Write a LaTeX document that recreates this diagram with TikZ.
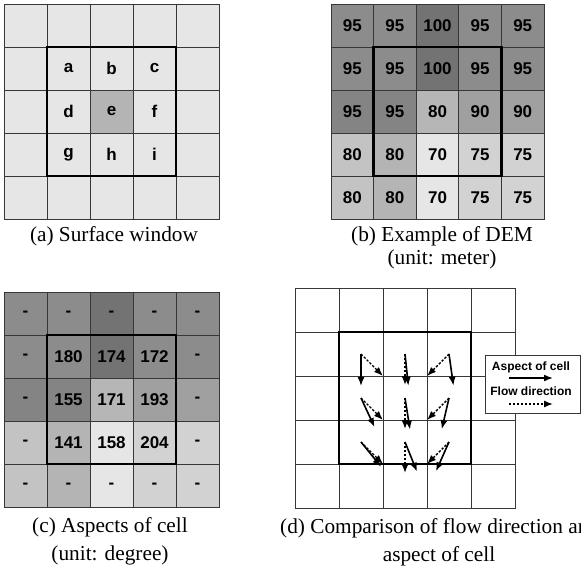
\documentclass[tikz,border=0pt]{standalone}
\usepackage{fontspec}
\setmainfont{Liberation Serif}
\newfontfamily\cellfont{Liberation Sans}
\usetikzlibrary{arrows.meta,calc}

\definecolor{gridline}{RGB}{55,55,55}

\begin{document}
\begin{tikzpicture}[x=1pt,y=-1pt,
  cellbox/.style={draw=gridline, line width=0.9pt, anchor=north west,
    minimum width=43pt, minimum height=43pt, inner sep=0pt, outer sep=0pt,
    font=\cellfont\bfseries\fontsize{17}{17}\selectfont},
  flowcell/.style={cellbox, fill=white, minimum width=44pt, minimum height=44pt},
  windowbox/.style={draw=black, line width=2.6pt},
  caption/.style={inner sep=0pt, font=\fontsize{21.3}{24}\selectfont},
  aspectarrow/.style={line width=1.6pt, -{Latex[length=9pt,width=7pt]}},
  flowarrow/.style={line width=1.4pt, dash pattern=on 2.4pt off 1.6pt,
    -{Latex[length=9pt,width=7pt]}},
  legendbox/.style={draw=gridline, line width=0.9pt, fill=white},
  legendtext/.style={inner sep=0pt, font=\cellfont\bfseries\fontsize{12}{12}\selectfont}]

\useasboundingbox (0,0) rectangle (581,571);

% ---------- (a) surface window ----------
\foreach \r in {1,...,5}
  \foreach \c in {1,...,5}
    \node[cellbox, fill={rgb,255:red,230;green,230;blue,230}] (a-\r-\c)
      at ({4+43*(\c-1)},{4+43*(\r-1)}) {};
\node[cellbox, fill={rgb,255:red,180;green,180;blue,180}] (a-3-3) at (90,90) {};
\foreach \r/\c/\t in {2/2/a,2/3/b,2/4/c,3/2/d,3/3/e,3/4/f,4/2/g,4/3/h,4/4/i}
  \node[font=\cellfont\bfseries\fontsize{17}{17}\selectfont] at (a-\r-\c.center) {\t};
\draw[windowbox] (a-2-2.north west) rectangle (a-4-4.south east);
\node[caption] (capa) at (114,236) {(a) Surface window};

% ---------- (b) example of DEM ----------
\foreach \r/\c/\v/\g in {
  1/1/95/140, 1/2/95/140, 1/3/100/115, 1/4/95/140, 1/5/95/140,
  2/1/95/140, 2/2/95/140, 2/3/100/115, 2/4/95/140, 2/5/95/140,
  3/1/95/132, 3/2/95/132, 3/3/80/182, 3/4/90/160, 3/5/90/160,
  4/1/80/195, 4/2/80/180, 4/3/70/230, 4/4/75/210, 4/5/75/210,
  5/1/80/195, 5/2/80/180, 5/3/70/230, 5/4/75/210, 5/5/75/210}
  \node[cellbox, minimum width=42.6pt, fill={rgb,255:red,\g;green,\g;blue,\g}] (b-\r-\c)
    at ({331+42.6*(\c-1)},{4+43*(\r-1)}) {\v};
\draw[windowbox] (b-2-2.north west) rectangle (b-4-4.south east);
\node[caption] (capb1) at (442,236) {(b) Example of DEM};
\node[caption] (capb2) at (442,259) {(unit: meter)};

% ---------- (c) aspects of cell ----------
\foreach \r/\c/\v/\g in {
  1/1/-/140, 1/2/-/140, 1/3/-/115, 1/4/-/140, 1/5/-/140,
  2/1/-/140, 2/2/180/140, 2/3/174/115, 2/4/172/140, 2/5/-/140,
  3/1/-/132, 3/2/155/132, 3/3/171/182, 3/4/193/160, 3/5/-/160,
  4/1/-/195, 4/2/141/180, 4/3/158/230, 4/4/204/210, 4/5/-/210,
  5/1/-/195, 5/2/-/180, 5/3/-/230, 5/4/-/210, 5/5/-/210}
  \node[cellbox, fill={rgb,255:red,\g;green,\g;blue,\g}] (c-\r-\c)
    at ({4+43*(\c-1)},{292+43*(\r-1)}) {\v};
\draw[windowbox] (c-2-2.north west) rectangle (c-4-4.south east);
\node[caption] (capc1) at (110,527) {(c) Aspects of cell};
\node[caption] (capc2) at (110,555) {(unit: degree)};

% ---------- (d) flow direction versus aspect ----------
\foreach \r in {1,...,5}
  \foreach \c in {1,...,5}
    \node[flowcell] (d-\r-\c) at ({295+44*(\c-1)},{288+44*(\r-1)}) {};
\draw[windowbox] (d-2-2.north west) rectangle (d-4-4.south east);

% aspect of each window cell (degrees clockwise from north)
\foreach \r/\c/\asp in {2/2/180, 2/3/174, 2/4/172,
                        3/2/155, 3/3/171, 3/4/193,
                        4/2/141, 4/3/158, 4/4/204} {
  \coordinate (asp-\r-\c) at ($(d-\r-\c.center)+({32*sin(\asp)},{-32*cos(\asp)})$);
  \draw[aspectarrow] (d-\r-\c.center) -- (asp-\r-\c);
}
% steepest-descent flow direction of each window cell
\foreach \r/\c/\fl in {2/2/135, 2/3/180, 2/4/225,
                       3/2/135, 3/3/180, 3/4/225,
                       4/2/135, 4/3/180, 4/4/225} {
  \coordinate (flow-\r-\c) at ($(d-\r-\c.center)+({31*sin(\fl)},{-31*cos(\fl)})$);
  \draw[flowarrow] (d-\r-\c.center) -- (flow-\r-\c);
}

% legend
\node[legendbox, anchor=north west, minimum width=95pt, minimum height=58pt,
  inner sep=0pt] (legend) at (485,355) {};
\node[legendtext] (legasp) at (531,367) {Aspect of cell};
\node[legendtext] (legflow) at (531,391) {Flow direction};
\coordinate (la1) at (509,378);
\coordinate (la2) at (553,378);
\coordinate (lf1) at (509,404);
\coordinate (lf2) at (553,404);
\draw[aspectarrow] (la1) -- (la2);
\draw[flowarrow] (lf1) -- (lf2);

\node[caption, anchor=west] (capd1) at (280,528) {(d) Comparison of flow direction and};
\node[caption] (capd2) at (439,556) {aspect of cell};

\end{tikzpicture}
\end{document}
